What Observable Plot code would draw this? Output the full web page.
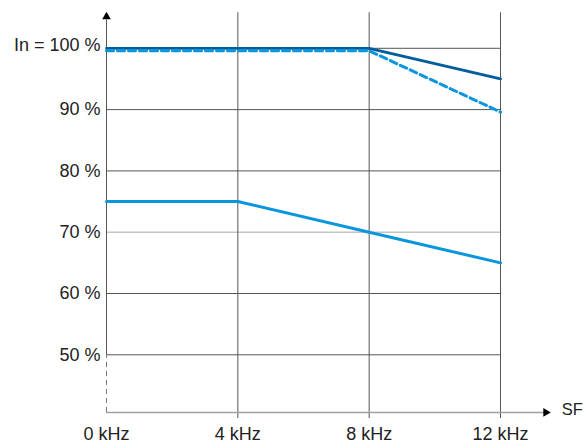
<!DOCTYPE html>
<html>
<head>
<meta charset="utf-8">
<script src="https://cdn.jsdelivr.net/npm/d3@7"></script>
<script src="https://cdn.jsdelivr.net/npm/@observablehq/plot@0.6"></script>
<style>
  html, body { margin: 0; padding: 0; background: #fff; }
  #chart svg { display: block; font-family: "Liberation Sans", Arial, sans-serif; }
</style>
</head>
<body>
<div id="chart"></div>
<script>
// Data
const freqs = [0, 4, 8, 12];                 // kHz
const xTickLabels = ["0 kHz", "4 kHz", "8 kHz", "12 kHz"];
const yTicks = [50, 60, 70, 80, 90, 100];
const yTickLabels = ["50 %", "60 %", "70 %", "80 %", "90 %", "In = 100 %"];
const seriesDarkSolid = [100, 100, 100, 95];
const seriesLightDashed = [99.6, 99.6, 99.6, 89.6];
const seriesLightSolid = [75, 75, 70, 65];

const yMin = 40.6, yTop = 105.8, xEnd = 13.5;

const toPts = (vals) => freqs.map((f, i) => ({x: f, y: vals[i]}));

const darkBlue = "#005e9c";
const lightBlue = "#0a96dc";
const gridCol = "#555";
const textCol = "#222";
const fontSize = 18;

const chart = Plot.plot({
  width: 584,
  height: 443,
  x: {type: "linear", domain: [0, 12], range: [106, 500], axis: null},
  y: {type: "linear", domain: [50, 100], range: [354.3, 47.8], axis: null},
  style: {fontSize: fontSize + "px", fontFamily: "'Liberation Sans', Arial, sans-serif", color: textCol},
  marks: [
    // horizontal gridlines
    Plot.ruleY(yTicks.filter(v => v !== 70), {x1: 0, x2: 12, stroke: gridCol, strokeWidth: 1}),
    Plot.ruleY([70], {x1: 0, x2: 12, stroke: "#c4c4c4", strokeWidth: 1.5}),
    // vertical gridlines
    Plot.ruleX(freqs.slice(1), {y1: 39.6, y2: yTop, stroke: gridCol, strokeWidth: 1}),
    // x axis line with arrow
    Plot.ruleY([yMin], {x1: 0, x2: xEnd - 0.1, stroke: "#a0a0a0", strokeWidth: 1.5}),
    Plot.dot([{x: xEnd - 0.12, y: yMin}], {x: "x", y: "y", symbol: "triangle", r: 3.2, fill: "#000", stroke: "none", rotate: 90}),
    // y axis line with arrow
    Plot.ruleX([0], {y1: 50, y2: yTop - 1.2, stroke: gridCol, strokeWidth: 1}),
    Plot.ruleX([0], {y1: yMin, y2: 50, stroke: "#777", strokeWidth: 1, strokeDasharray: "5,4"}),
    Plot.dot([{x: 0, y: yTop - 0.65}], {x: "x", y: "y", symbol: "triangle", r: 3.2, fill: "#000", stroke: "none"}),
    // series
    Plot.line(toPts(seriesLightSolid), {x: "x", y: "y", stroke: lightBlue, strokeWidth: 3}),
    Plot.line(toPts(seriesDarkSolid), {x: "x", y: "y", stroke: darkBlue, strokeWidth: 2.8}),
    Plot.line(toPts(seriesLightDashed), {x: "x", y: "y", stroke: lightBlue, strokeWidth: 3, strokeDasharray: "7,4"}),
    // y tick labels
    Plot.text(yTicks.map((v, i) => ({y: v, label: yTickLabels[i]})).filter(d => d.y !== 100),
      {x: 0, y: "y", text: "label", textAnchor: "end", dx: -6, fill: textCol}),
    Plot.text([{y: 100, label: yTickLabels[5]}],
      {x: 0, y: "y", text: "label", textAnchor: "end", dx: -6, dy: -3, fill: textCol}),
    // x tick labels
    Plot.text(freqs.map((f, i) => ({x: f, label: xTickLabels[i]})),
      {x: "x", y: yMin, text: "label", dy: 21.5, fill: textCol}),
    // axis name
    Plot.text([{label: "SF"}], {x: xEnd, y: yMin, text: "label", textAnchor: "start", dx: 12, dy: -3, fill: textCol, fontSize: 16.5})
  ]
});

document.getElementById("chart").appendChild(chart);
</script>
</body>
</html>
